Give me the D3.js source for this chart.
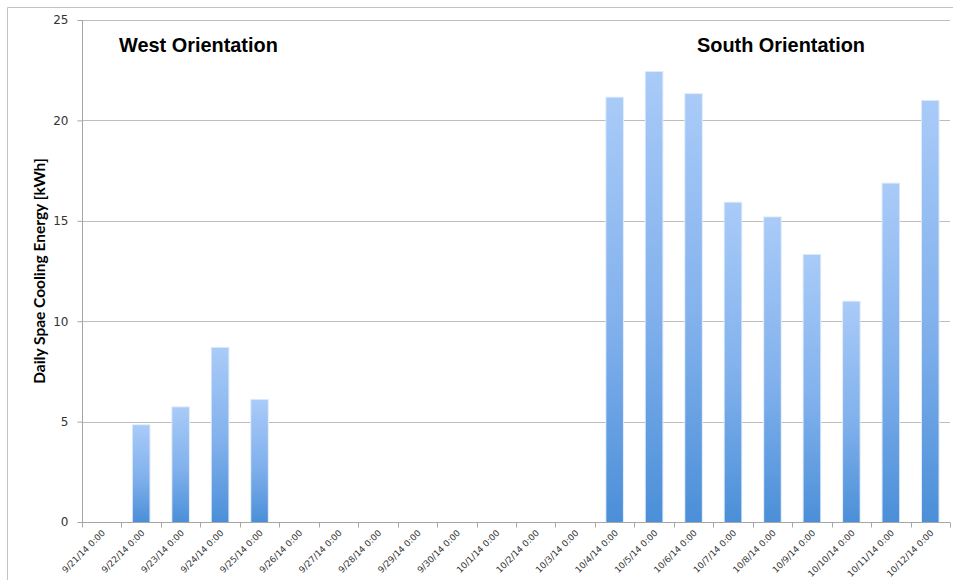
<!DOCTYPE html>
<html>
<head>
<meta charset="utf-8">
<script src="https://cdn.jsdelivr.net/npm/d3@7"></script>
<style>
  html, body { margin: 0; padding: 0; background: #fff; }
  svg { display: block; }
</style>
</head>
<body>
<svg id="chart" width="954" height="580"></svg>
<script>
// Daily cooling energy per day, two measurement periods
const days = [
  "9/21/14 0:00", "9/22/14 0:00", "9/23/14 0:00", "9/24/14 0:00", "9/25/14 0:00",
  "9/26/14 0:00", "9/27/14 0:00", "9/28/14 0:00", "9/29/14 0:00", "9/30/14 0:00",
  "10/1/14 0:00", "10/2/14 0:00", "10/3/14 0:00", "10/4/14 0:00", "10/5/14 0:00",
  "10/6/14 0:00", "10/7/14 0:00", "10/8/14 0:00", "10/9/14 0:00", "10/10/14 0:00",
  "10/11/14 0:00", "10/12/14 0:00"
];
const energyKWh = [
  null, 4.82, 5.71, 8.67, 6.08,
  null, null, null, null, null,
  null, null, null, 21.13, 22.41,
  21.31, 15.9, 15.17, 13.3, 10.97,
  16.85, 20.97
];
const yTicks = [0, 5, 10, 15, 20, 25];
const panelTitles = ["West Orientation", "South Orientation"];
const yTitle = "Daily Spae Cooling Energy [kWh]";

const svg = d3.select("#chart");
const plot = { left: 82, right: 950, top: 20, bottom: 522 };

// outer frame
svg.append("path")
  .attr("d", "M7.5,580 V7.5 H953")
  .attr("fill", "none")
  .attr("stroke", "#c3c3c3")
  .attr("stroke-width", 1);

const x = d3.scaleBand().domain(days).range([plot.left, plot.right]).padding(0);
const y = d3.scaleLinear().domain([0, 25]).range([plot.bottom, plot.top]);

// horizontal gridlines
svg.append("g")
  .selectAll("line")
  .data(yTicks.filter(t => t > 0))
  .join("line")
  .attr("x1", plot.left)
  .attr("x2", plot.right)
  .attr("y1", d => Math.round(y(d)) + 0.5)
  .attr("y2", d => Math.round(y(d)) + 0.5)
  .attr("stroke", "#bdbdbd")
  .attr("stroke-width", 1);

// bar gradient: light top to deeper blue bottom
const defs = svg.append("defs");
const grad = defs.append("linearGradient")
  .attr("id", "barFill")
  .attr("x1", 0).attr("y1", 0).attr("x2", 0).attr("y2", 1);
grad.append("stop").attr("offset", "0%").attr("stop-color", "#a9cbf8");
grad.append("stop").attr("offset", "55%").attr("stop-color", "#80b0ec");
grad.append("stop").attr("offset", "100%").attr("stop-color", "#4b8fd8");

const barW = x.step() * 0.42;
const barData = days.map((d, i) => ({ day: d, v: energyKWh[i] })).filter(d => d.v != null);

// soft halo around each bar
svg.append("g")
  .selectAll("rect")
  .data(barData)
  .join("rect")
  .attr("x", d => x(d.day) + x.bandwidth() / 2 - barW / 2 - 1)
  .attr("y", d => y(d.v) - 1)
  .attr("width", barW + 2)
  .attr("height", d => y(0) - y(d.v) + 1)
  .attr("fill", "#dfeafa");

svg.append("g")
  .selectAll("rect")
  .data(barData)
  .join("rect")
  .attr("x", d => x(d.day) + x.bandwidth() / 2 - barW / 2)
  .attr("y", d => y(d.v))
  .attr("width", barW)
  .attr("height", d => y(0) - y(d.v))
  .attr("fill", "url(#barFill)");

// y axis
const yAxis = svg.append("g")
  .attr("transform", `translate(${plot.left + 0.5},0)`)
  .call(d3.axisLeft(y).tickValues(yTicks).tickSize(5).tickPadding(9).tickFormat(d3.format("d")));
yAxis.select(".domain").attr("stroke", "#a6a6a6").attr("d", `M0,${plot.top}V${plot.bottom}`);
yAxis.selectAll(".tick line").attr("stroke", "#a6a6a6");
yAxis.selectAll(".tick text")
  .attr("fill", "#333")
  .attr("font-family", "Verdana, 'DejaVu Sans', sans-serif")
  .attr("font-size", 12);

// x axis: ticks on category boundaries
const xAxisG = svg.append("g").attr("transform", `translate(0,${Math.round(plot.bottom) + 0.5})`);
xAxisG.append("line")
  .attr("x1", plot.left).attr("x2", plot.right)
  .attr("stroke", "#a6a6a6");
xAxisG.selectAll("line.tk")
  .data(days.concat(["end"]))
  .join("line")
  .attr("class", "tk")
  .attr("x1", (d, i) => Math.round(plot.left + i * x.step()) + 0.5)
  .attr("x2", (d, i) => Math.round(plot.left + i * x.step()) + 0.5)
  .attr("y1", 0).attr("y2", 5)
  .attr("stroke", "#a6a6a6");
xAxisG.selectAll("text")
  .data(days)
  .join("text")
  .attr("transform", d => `translate(${x(d) + x.bandwidth() / 2 + 4},${11}) rotate(-45)`)
  .attr("text-anchor", "end")
  .attr("font-family", "Verdana, 'DejaVu Sans', sans-serif")
  .attr("font-size", 8.8)
  .attr("fill", "#333")
  .text(d => d);

// panel titles
svg.append("g")
  .selectAll("text")
  .data(panelTitles)
  .join("text")
  .attr("x", (d, i) => i === 0 ? 119 : 697)
  .attr("y", 52)
  .attr("font-family", "'Liberation Sans', Arial, sans-serif")
  .attr("font-weight", "bold")
  .attr("font-size", 19.9)
  .attr("fill", "#000")
  .text(d => d);

// y axis title
svg.append("text")
  .attr("transform", `translate(45,${271}) rotate(-90)`)
  .attr("text-anchor", "middle")
  .attr("font-family", "Lato, 'Open Sans', sans-serif")
  .attr("font-weight", "bold")
  .attr("font-size", 15.5)
  .attr("fill", "#000")
  .text(yTitle);
</script>
</body>
</html>
